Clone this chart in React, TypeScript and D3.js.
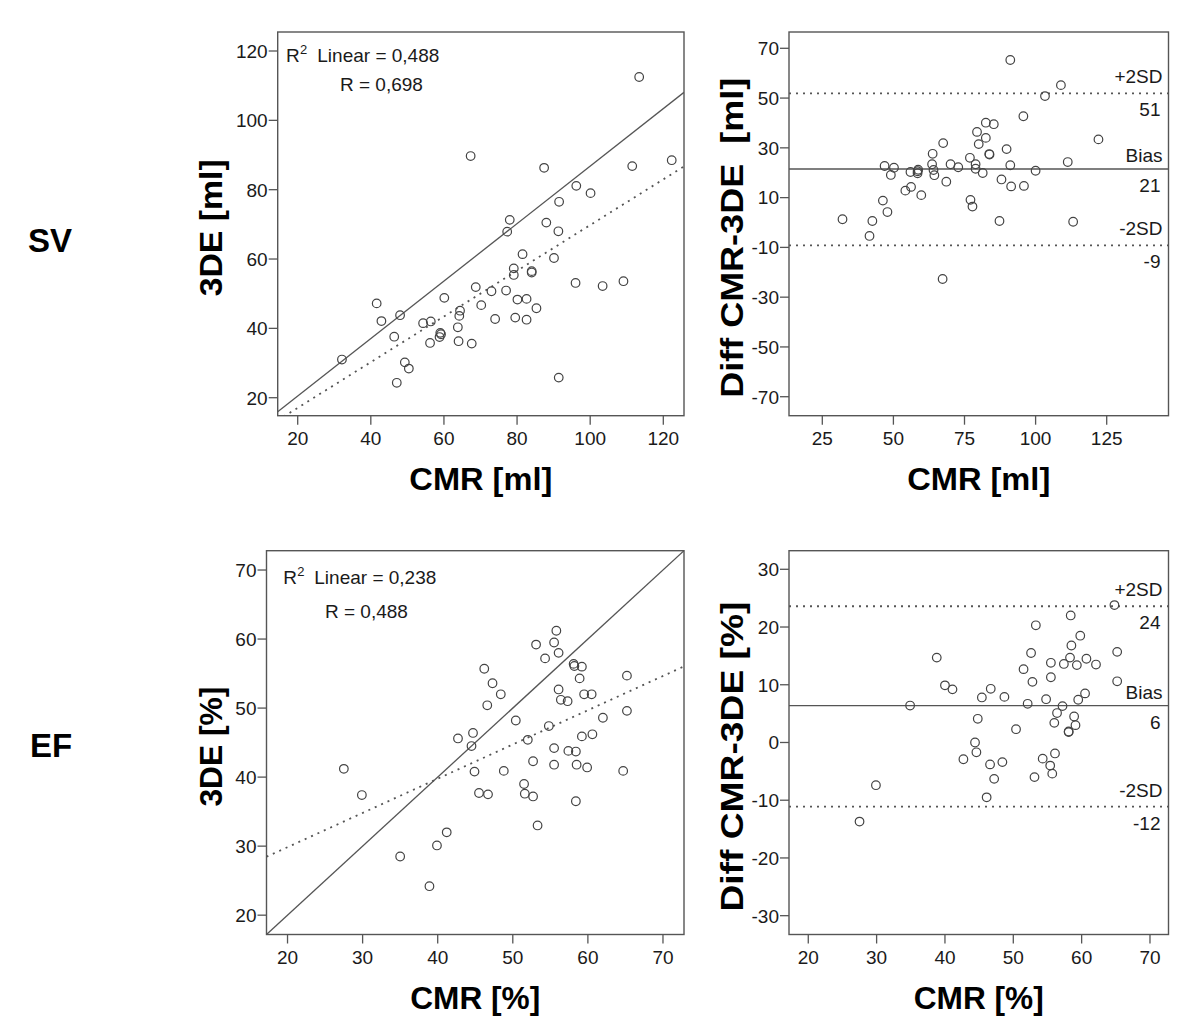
import React from "react";
import * as d3 from "d3";

// ---------- DATA ----------
// SV correlation (CMR vs 3DE, ml)
const svCMR = [113.4, 67.3, 87.4, 111.5, 122.3, 96.2, 100.1, 91.5, 78.0, 77.3, 88.0, 91.3, 81.5, 90.1, 79.1, 79.1, 84.0, 84.0, 68.7, 73.0, 77.0, 96.0, 103.4, 109.1, 60.1, 80.1, 82.6, 85.3, 70.2, 64.4, 64.2, 74.0, 79.5, 82.6, 41.6, 42.9, 48.0, 54.3, 56.4, 46.4, 63.8, 59.0, 58.8, 59.2, 56.2, 64.0, 67.6, 32.1, 49.3, 50.4, 47.1, 91.4];
const sv3DE = [112.5, 89.7, 86.3, 86.8, 88.5, 81.1, 79.0, 76.5, 71.3, 67.9, 70.5, 68.0, 61.4, 60.3, 57.3, 55.4, 56.5, 56.1, 51.9, 50.7, 50.9, 53.1, 52.2, 53.6, 48.8, 48.3, 48.5, 45.8, 46.7, 45.1, 43.6, 42.7, 43.1, 42.5, 47.2, 42.1, 43.8, 41.5, 42.0, 37.6, 40.3, 38.7, 37.5, 38.3, 35.8, 36.3, 35.6, 31.0, 30.2, 28.4, 24.3, 25.8];

// SV Bland-Altman
const svBaX = [91.1, 108.9, 103.3, 95.7, 122.1, 82.5, 85.3, 79.4, 82.5, 80.0, 67.5, 89.8, 83.7, 83.8, 63.8, 76.9, 111.3, 46.9, 50.2, 63.6, 70.1, 72.8, 78.9, 78.9, 91.1, 100.0, 56.0, 58.5, 58.7, 58.5, 64.1, 64.4, 81.4, 49.1, 68.6, 88.0, 91.4, 95.9, 56.2, 54.2, 59.8, 46.3, 77.1, 77.8, 47.9, 32.1, 42.6, 87.3, 113.2, 41.6, 67.3];
const svBaDiff = [65.3, 55.2, 50.8, 42.7, 33.4, 40.1, 39.5, 36.4, 34.0, 31.5, 31.9, 29.5, 27.5, 27.3, 27.6, 26.0, 24.3, 22.7, 22.0, 23.4, 23.4, 22.2, 23.4, 21.6, 23.0, 20.8, 20.3, 20.6, 21.2, 19.8, 21.1, 19.0, 19.9, 19.1, 16.4, 17.3, 14.5, 14.7, 14.3, 12.8, 11.0, 8.8, 9.1, 6.4, 4.2, 1.3, 0.6, 0.6, 0.3, -5.4, -22.7];

// EF correlation (CMR vs 3DE, %)
const efCMR = [55.8, 53.1, 55.5, 56.1, 54.3, 58.1, 58.2, 59.2, 46.2, 58.9, 65.2, 47.3, 48.4, 59.5, 60.5, 56.1, 56.4, 57.3, 46.6, 65.2, 62.0, 50.4, 54.8, 44.7, 42.7, 52.0, 59.2, 60.6, 44.5, 55.5, 57.4, 58.4, 52.7, 44.9, 48.8, 55.5, 58.5, 59.9, 64.7, 27.5, 29.9, 45.5, 46.7, 51.5, 51.6, 52.7, 58.4, 53.3, 41.2, 39.9, 35.0, 38.9];
const ef3DE = [61.2, 59.2, 59.5, 58.0, 57.2, 56.4, 56.1, 56.0, 55.7, 54.3, 54.7, 53.6, 52.0, 52.0, 52.0, 52.7, 51.2, 51.0, 50.4, 49.6, 48.6, 48.2, 47.4, 46.4, 45.6, 45.4, 45.9, 46.2, 44.5, 44.2, 43.8, 43.7, 42.3, 40.8, 40.9, 41.8, 41.8, 41.4, 40.9, 41.2, 37.4, 37.7, 37.5, 39.0, 37.6, 37.2, 36.5, 33.0, 32.0, 30.1, 28.5, 24.2];

// EF Bland-Altman
const efBaX = [64.8, 58.4, 53.3, 59.8, 58.5, 65.2, 38.8, 52.6, 58.3, 60.7, 55.5, 57.4, 59.3, 62.1, 51.5, 55.5, 65.2, 52.8, 40.0, 41.1, 46.7, 45.4, 48.7, 54.8, 59.5, 60.5, 52.1, 57.2, 34.9, 56.4, 58.9, 44.8, 56.0, 59.1, 50.4, 58.1, 58.1, 44.4, 44.6, 56.1, 42.7, 48.4, 46.6, 54.3, 55.4, 55.7, 47.2, 53.1, 46.1, 29.9, 27.5];
const efBaDiff = [23.8, 22.0, 20.3, 18.5, 16.8, 15.7, 14.7, 15.5, 14.7, 14.5, 13.8, 13.6, 13.4, 13.5, 12.7, 11.3, 10.6, 10.5, 9.9, 9.2, 9.3, 7.8, 7.9, 7.5, 7.4, 8.5, 6.7, 6.3, 6.4, 5.1, 4.5, 4.1, 3.4, 3.0, 2.3, 1.9, 1.8, 0.0, -1.7, -1.9, -2.9, -3.4, -3.8, -2.8, -4.0, -5.4, -6.3, -6.0, -9.5, -7.4, -13.7];

// Tick values
const svTicks = [20, 40, 60, 80, 100, 120];
const svBaXTicks = [25, 50, 75, 100, 125];
const svBaYTicks = [-70, -50, -30, -10, 10, 30, 50, 70];
const efTicks = [20, 30, 40, 50, 60, 70];
const efBaYTicks = [-30, -20, -10, 0, 10, 20, 30];

// Fit lines [intercept, slope]
const svSolidFit = [3.9, 0.829];
const svDottedFit = [3.9, 0.659];
const efSolidFit = [0, 1];
const efDottedFit = [19.93, 0.496];

// Bland-Altman limits: value, upper label, lower label, line style
const svLimits = [
  { v: 51.9, top: "+2SD", bottom: "51", dotted: true },
  { v: 21.5, top: "Bias", bottom: "21", dotted: false },
  { v: -9.2, top: "-2SD", bottom: "-9", dotted: true },
];
const efLimits = [
  { v: 23.6, top: "+2SD", bottom: "24", dotted: true },
  { v: 6.4, top: "Bias", bottom: "6", dotted: false },
  { v: -11.1, top: "-2SD", bottom: "-12", dotted: true },
];

const FONT = "'Liberation Sans', Arial, Helvetica, sans-serif";
const FRAME = "#555";
const MARK = "#444";
const TXT = "#1a1a1a";
const FS = 19;

type PanelProps = {
  id: string;
  box: [number, number, number, number]; // left, top, right, bottom
  xDomain: [number, number];
  yDomain: [number, number];
  xTicks: number[];
  yTicks: number[];
  xs: number[];
  ys: number[];
  xTitle: string;
  yTitle: string;
  yTitleX: number;
  yTitleLen: number;
  xTitleLen: number;
  fits?: { f: number[]; dotted: boolean }[];
  limits?: { v: number; top: string; bottom: string; dotted: boolean }[];
  r2?: { r2: string; r: string; dx1: number; dy1: number; dxL: number; dx2: number; dy2: number };
};

function Panel(p: PanelProps) {
  const [L, T, R, B] = p.box;
  const x = d3.scaleLinear().domain(p.xDomain).range([L, R]);
  const y = d3.scaleLinear().domain(p.yDomain).range([B, T]);
  const tick = 9;
  const line = d3
    .line<number[]>()
    .x((d) => x(d[0]))
    .y((d) => y(d[1]));
  return (
    <g>
      <defs>
        <clipPath id={"clip-" + p.id}>
          <rect x={L} y={T} width={R - L} height={B - T} />
        </clipPath>
      </defs>
      <g clipPath={`url(#clip-${p.id})`}>
        {(p.fits || []).map((ft, i) => {
          const pts = p.xDomain.map((xv) => [xv, ft.f[0] + ft.f[1] * xv]);
          return (
            <path
              key={i}
              d={line(pts) || ""}
              fill="none"
              stroke={FRAME}
              strokeWidth={ft.dotted ? 1.8 : 1.3}
              strokeDasharray={ft.dotted ? "2 5" : undefined}
            />
          );
        })}
        {(p.limits || []).map((lm, i) => (
          <line
            key={i}
            x1={L}
            x2={R}
            y1={y(lm.v)}
            y2={y(lm.v)}
            stroke={FRAME}
            strokeWidth={lm.dotted ? 1.8 : 1.3}
            strokeDasharray={lm.dotted ? "2 5" : undefined}
          />
        ))}
        {p.xs.map((xv, i) => (
          <circle key={i} cx={x(xv)} cy={y(p.ys[i])} r={4.3} fill="none" stroke={MARK} strokeWidth={1.2} />
        ))}
      </g>
      {(p.limits || []).map((lm, i) => (
        <g key={"t" + i} fontFamily={FONT} fontSize={FS} fill={TXT} textAnchor="end">
          <text x={R - 6} y={y(lm.v) - (lm.top === "Bias" ? 7 : 10)}>
            {lm.top}
          </text>
          <text x={R - 8} y={y(lm.v) + 23}>
            {lm.bottom}
          </text>
        </g>
      ))}
      <rect x={L} y={T} width={R - L} height={B - T} fill="none" stroke={FRAME} strokeWidth={1.4} />
      {p.xTicks.map((t) => (
        <g key={"x" + t}>
          <line x1={x(t)} x2={x(t)} y1={B} y2={B + tick} stroke={FRAME} strokeWidth={1.3} />
          <text x={x(t)} y={B + 29} textAnchor="middle" fontFamily={FONT} fontSize={FS} fill={TXT}>
            {t}
          </text>
        </g>
      ))}
      {p.yTicks.map((t) => (
        <g key={"y" + t}>
          <line x1={L - tick} x2={L} y1={y(t)} y2={y(t)} stroke={FRAME} strokeWidth={1.3} />
          <text x={L - tick - 1} y={y(t)} dy="0.36em" textAnchor="end" fontFamily={FONT} fontSize={FS} fill={TXT}>
            {t}
          </text>
        </g>
      ))}
      <text
        x={(L + R) / 2}
        y={B + 74}
        textAnchor="middle"
        fontFamily={FONT}
        fontWeight="bold"
        fontSize={32}
        fill="#000"
        textLength={p.xTitleLen}
        lengthAdjust="spacingAndGlyphs"
      >
        {p.xTitle}
      </text>
      <text
        transform={`translate(${p.yTitleX},${(T + B) / 2 + (p.limits ? 14 : 4)}) rotate(-90)`}
        textAnchor="middle"
        fontFamily={FONT}
        fontWeight="bold"
        fontSize={32}
        fill="#000"
        textLength={p.yTitleLen}
        lengthAdjust="spacingAndGlyphs"
        style={{ whiteSpace: "pre" }}
      >
        {p.yTitle}
      </text>
      {p.r2 && (
        <g fontFamily={FONT} fontSize={FS} fill={TXT}>
          <text x={L + p.r2.dx1} y={T + p.r2.dy1}>
            R
          </text>
          <text x={L + p.r2.dx1 + 14} y={T + p.r2.dy1 - 8} fontSize={13}>
            2
          </text>
          <text x={L + p.r2.dxL} y={T + p.r2.dy1}>
            {"Linear = " + p.r2.r2}
          </text>
          <text x={L + p.r2.dx2} y={T + p.r2.dy2}>
            {"R = " + p.r2.r}
          </text>
        </g>
      )}
    </g>
  );
}

export default function App() {
  return (
    <div style={{ position: "absolute", left: 0, top: 0 }}>
      <svg width={1200} height={1026} style={{ display: "block", background: "#fff" }}>
        <rect x={0} y={0} width={1200} height={1026} fill="#fff" />
        <text x={28} y={252} fontFamily={FONT} fontWeight="bold" fontSize={33} fill="#000">
          SV
        </text>
        <text x={30} y={757} fontFamily={FONT} fontWeight="bold" fontSize={33} fill="#000">
          EF
        </text>
        <Panel
          id="p1"
          box={[277.7, 32, 684, 415.7]}
          xDomain={[14.53, 125.66]}
          yDomain={[14.81, 125.48]}
          xTicks={svTicks}
          yTicks={svTicks}
          xs={svCMR}
          ys={sv3DE}
          xTitle="CMR [ml]"
          yTitle="3DE [ml]"
          yTitleX={222}
          yTitleLen={137}
          xTitleLen={143}
          fits={[
            { f: svSolidFit, dotted: false },
            { f: svDottedFit, dotted: true },
          ]}
          r2={{ r2: "0,488", r: "0,698", dx1: 8.3, dy1: 29.7, dxL: 39.6, dx2: 62.3, dy2: 59 }}
        />
        <Panel
          id="p2"
          box={[789, 32, 1168.5, 415.7]}
          xDomain={[13.29, 146.73]}
          yDomain={[-77.63, 76.55]}
          xTicks={svBaXTicks}
          yTicks={svBaYTicks}
          xs={svBaX}
          ys={svBaDiff}
          xTitle="CMR [ml]"
          yTitle={"Diff CMR-3DE  [ml]"}
          yTitleX={743}
          yTitleLen={320}
          xTitleLen={143}
          limits={svLimits}
        />
        <Panel
          id="p3"
          box={[266.5, 550.7, 684, 934.5]}
          xDomain={[17.2, 72.8]}
          yDomain={[17.2, 72.8]}
          xTicks={efTicks}
          yTicks={efTicks}
          xs={efCMR}
          ys={ef3DE}
          xTitle="CMR [%]"
          yTitle="3DE [%]"
          yTitleX={222}
          yTitleLen={120}
          xTitleLen={130}
          fits={[
            { f: efSolidFit, dotted: false },
            { f: efDottedFit, dotted: true },
          ]}
          r2={{ r2: "0,238", r: "0,488", dx1: 16.8, dy1: 33.3, dxL: 47.8, dx2: 58.5, dy2: 67.6 }}
        />
        <Panel
          id="p4"
          box={[789, 550.7, 1168.5, 934.5]}
          xDomain={[17.18, 72.71]}
          yDomain={[-33.26, 33.22]}
          xTicks={efTicks}
          yTicks={efBaYTicks}
          xs={efBaX}
          ys={efBaDiff}
          xTitle="CMR [%]"
          yTitle="Diff CMR-3DE [%]"
          yTitleX={743}
          yTitleLen={310}
          xTitleLen={130}
          limits={efLimits}
        />
      </svg>
    </div>
  );
}
